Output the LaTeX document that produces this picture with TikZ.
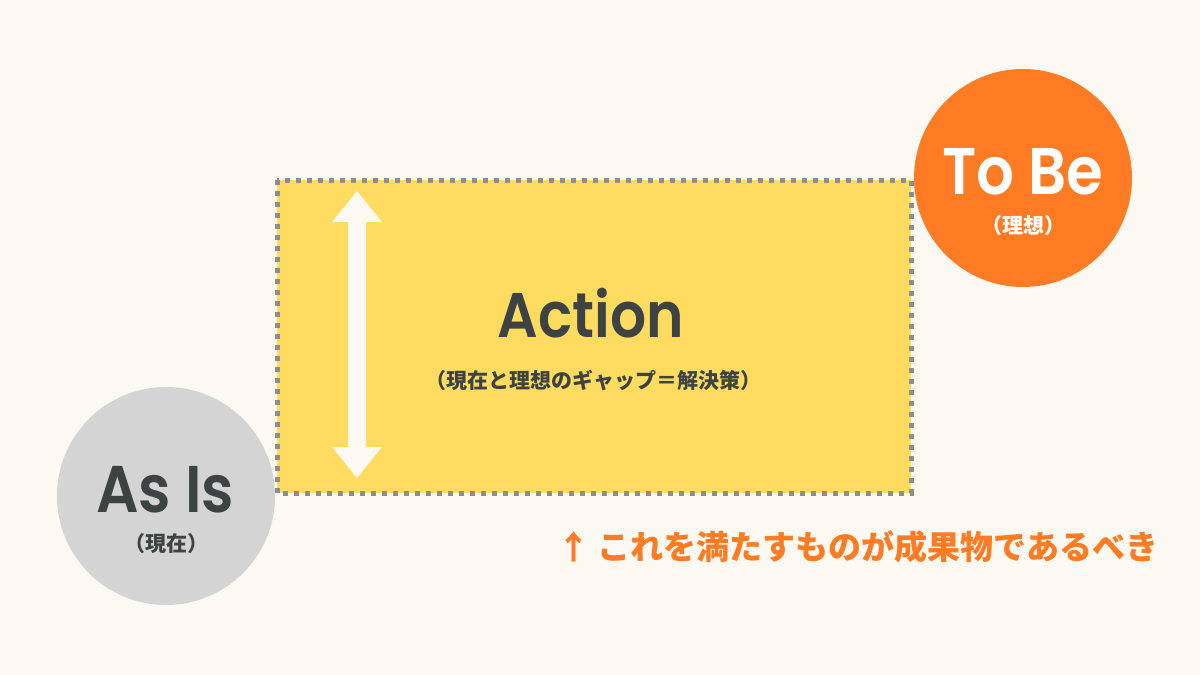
\documentclass[tikz,border=0pt]{standalone}
\usepackage{fontspec}
\usetikzlibrary{calc}
\newfontfamily\latinf{Poppins}[UprightFont=* SemiBold, FakeStretch=0.9]
\newfontfamily\cjk{Noto Sans CJK JP}
\definecolor{bg}{HTML}{FCF8F2}
\definecolor{boxyellow}{HTML}{FFDC60}
\definecolor{boxdash}{HTML}{8E8E8E}
\definecolor{asgray}{HTML}{D4D4D4}
\definecolor{tobe}{HTML}{FF7B24}
\definecolor{darktext}{HTML}{3D4343}
\begin{document}
\begin{tikzpicture}[x=1pt,y=-1pt,
  bigcircle/.style={circle, minimum size=218pt, inner sep=0pt},
  titletext/.style={font=\latinf\fontsize{66}{66}\selectfont, inner sep=0pt, anchor=base},
  subtext/.style={font=\cjk\bfseries\fontsize{21}{21}\selectfont, inner sep=0pt}
]
\useasboundingbox (0,0) rectangle (1200,675);
\fill[bg] (0,0) rectangle (1200,675);

% action box
\coordinate (boxtl) at (277,180);
\coordinate (boxbr) at (911,493);
\draw[boxdash, fill=boxyellow, line width=5pt, dash pattern=on 5pt off 6pt] (boxtl) rectangle (boxbr);

% double arrow
\coordinate (arrtop) at (357,191);
\coordinate (arrbot) at (357,478);
\fill[bg] (arrtop) -- ($(arrtop)+(25,31)$) -- ($(arrtop)+(9,31)$) -- ($(arrbot)+(9,-31)$) -- ($(arrbot)+(25,-31)$) -- (arrbot)
  -- ($(arrbot)+(-25,-31)$) -- ($(arrbot)+(-9,-31)$) -- ($(arrtop)+(-9,31)$) -- ($(arrtop)+(-25,31)$) -- cycle;

% circles
\node[bigcircle, fill=asgray] (asis) at (166,496) {};
\node[bigcircle, fill=tobe] (tobec) at (1023,178) {};

% texts
\node[titletext, text=darktext, font=\latinf\fontsize{63}{63}\selectfont] (action) at (591,337) {Action};
\node[subtext, text=darktext] (actionsub) at (593,380) {（現在と理想のギャップ＝解決策）};

\node[titletext, text=white] (tobet) at (1023,194) {To Be};
\node[subtext, text=white] (tobesub) at (1023,226) {（理想）};

\node[titletext, text=darktext] (asist) at (165,512) {As Is};
\node[subtext, text=darktext] (asissub) at (166,544) {（現在）};

\node[font=\cjk\bfseries\fontsize{33}{33}\selectfont, text=tobe, inner sep=0pt, anchor=west] (note) at (557,547) {↑ これを満たすものが成果物であるべき};
\end{tikzpicture}
\end{document}
